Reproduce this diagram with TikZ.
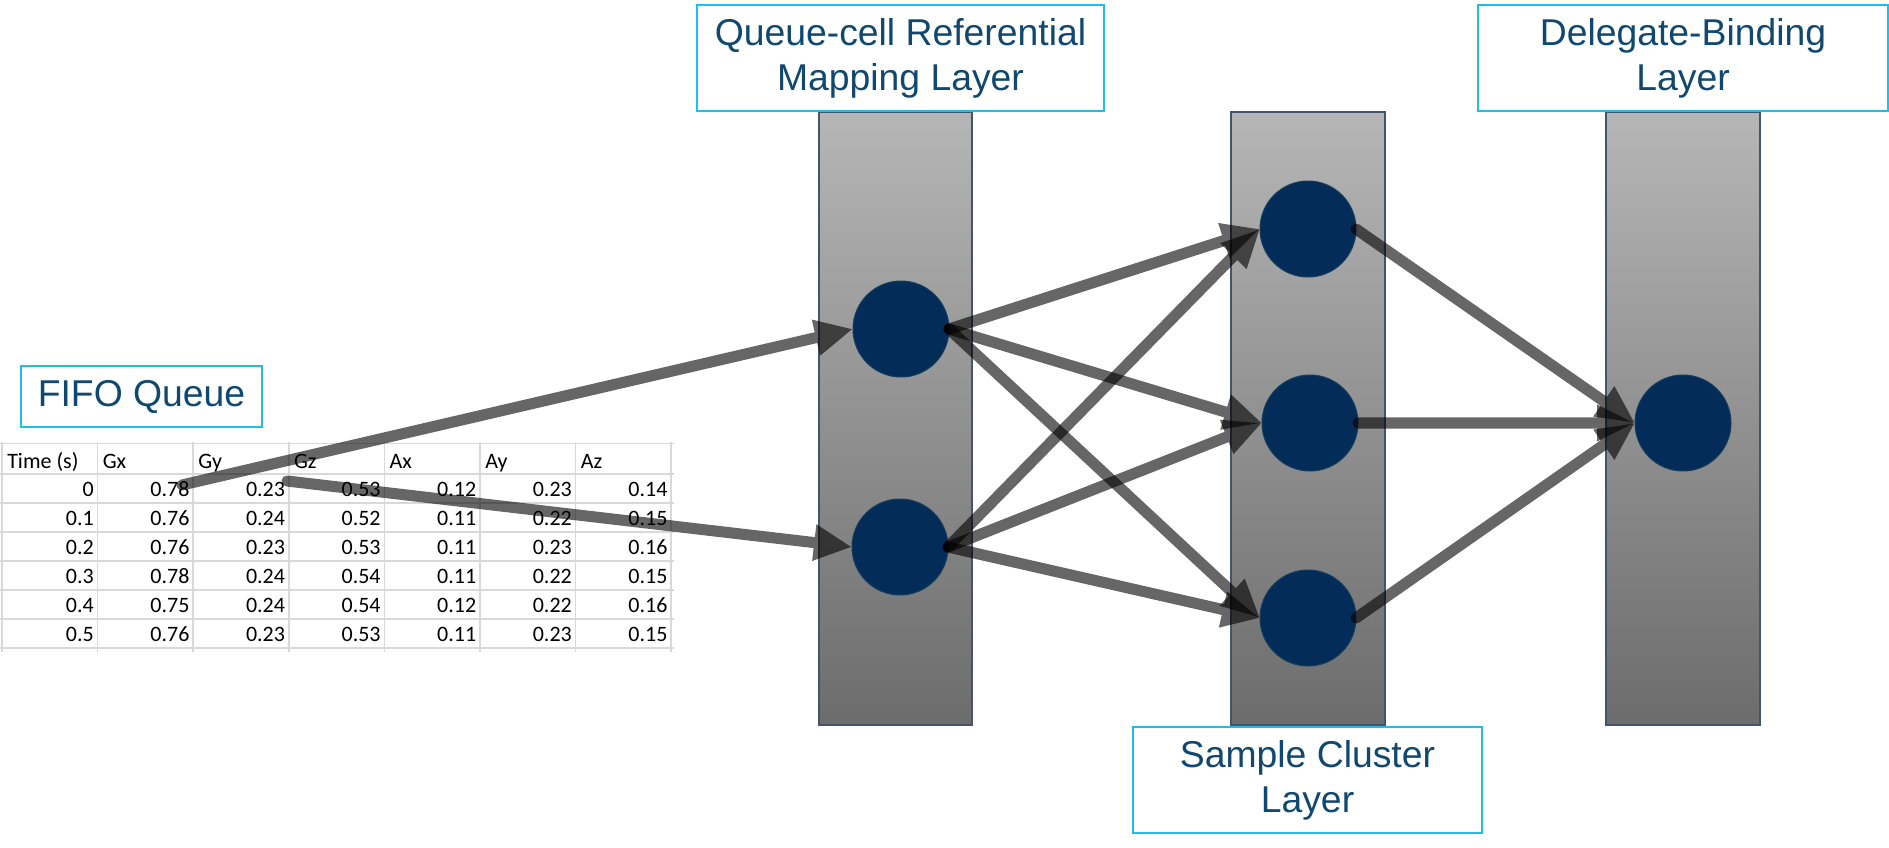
\documentclass[tikz,border=0pt]{standalone}
\usepackage{fontspec}
\setmainfont{Liberation Sans}
\newfontfamily\tablefont{Carlito}
\usetikzlibrary{arrows.meta}
\definecolor{txtblue}{RGB}{16,72,112}
\definecolor{boxcyan}{RGB}{32,190,230}
\definecolor{navy}{RGB}{4,44,89}
\definecolor{navyedge}{RGB}{20,62,90}
\definecolor{rectedge}{RGB}{68,84,106}
\definecolor{gridgray}{RGB}{217,217,217}
\definecolor{shadetop}{RGB}{182,182,182}
\definecolor{shadebot}{RGB}{108,108,108}
\begin{document}
\begin{tikzpicture}[x=0.75pt,y=-0.75pt,
 lbl/.style={draw=boxcyan, line width=1.5pt, fill=white, text=txtblue, align=center, inner sep=0pt, outer sep=0pt, font=\fontsize{28}{33.75}\selectfont},
 neuron/.style={circle, fill=navy, draw=navyedge, line width=0.75pt, minimum size=72pt, inner sep=0pt, outer sep=0pt},
 layerbar/.style={draw=rectedge, line width=1.1pt, top color=shadetop, bottom color=shadebot, inner sep=0pt, outer sep=0pt, minimum height=459.75pt},
 link/.style={line width=8.3pt, draw=black, line cap=round, -{Triangle[length=28.5pt,width=25.5pt]}},
 linkgroup/.style={transparency group, opacity=0.6},
 cell/.style={inner sep=0pt, font=\tablefont\fontsize{16.5}{19}\selectfont},
 grid/.style={draw=gridgray, line width=1.1pt},
]
\useasboundingbox (0,0) rectangle (1889,847);

% layer bars
\node[layerbar, minimum width=114.75pt] (bar1) at (895.5,418.5) {};
\node[layerbar, minimum width=115.5pt] (bar2) at (1308,418.5) {};
\node[layerbar, minimum width=115.5pt] (bar3) at (1683,418.5) {};

% table grid
\foreach \gx in {0,...,7} \draw[grid] ({2+95.6*\gx},441.5) -- ({2+95.6*\gx},652);
\draw[grid] (0,443.5) -- (674,443.5);
\foreach \gy in {0,...,6} \draw[grid] (0,{474+29*\gy}) -- (674,{474+29*\gy});

% header
\foreach \h [count=\c] in {Time (s),Gx,Gy,Gz,Ax,Ay,Az}
  \node[cell, anchor=base west] (h-\c) at ({2+95.6*(\c-1)+5},468) {\h};
% data
\foreach \row [count=\r] in {{0,0.78,0.23,0.53,0.12,0.23,0.14},{0.1,0.76,0.24,0.52,0.11,0.22,0.15},{0.2,0.76,0.23,0.53,0.11,0.23,0.16},{0.3,0.78,0.24,0.54,0.11,0.22,0.15},{0.4,0.75,0.24,0.54,0.12,0.22,0.16},{0.5,0.76,0.23,0.53,0.11,0.23,0.15}}
  \foreach \v [count=\c] in \row
    \node[cell, anchor=base east] (c-\r-\c) at ({2+95.6*\c-3.5},{474+29*\r-6.5}) {\v};

% labels
\node[lbl, minimum width=180.75pt, minimum height=45.75pt] (fifo) at (141.5,396.5) {FIFO Queue};
\node[lbl, minimum width=305.25pt, minimum height=79.5pt] (qlbl) at (900.5,58) {Queue-cell Referential\\Mapping Layer};
\node[lbl, minimum width=307.5pt, minimum height=79.5pt] (dlbl) at (1683,58) {Delegate-Binding\\Layer};
\node[lbl, minimum width=261.75pt, minimum height=79.5pt] (slbl) at (1307.5,780) {Sample Cluster\\Layer};

% neurons
\node[neuron] (q1) at (901,329) {};
\node[neuron] (q2) at (900,547) {};
\node[neuron] (s1) at (1308,229) {};
\node[neuron] (s2) at (1310,423) {};
\node[neuron] (s3) at (1308,618) {};
\node[neuron] (d1) at (1683,423) {};

% table sources
\coordinate (t1) at (182,485);
\coordinate (t2) at (287,481);

% connectors
\begin{scope}[linkgroup]\draw[link] (t1) -- (q1.west);\end{scope}
\begin{scope}[linkgroup]\draw[link] (t2) -- (q2.west);\end{scope}
\foreach \a in {q1,q2} \foreach \b in {s1,s2,s3} {
  \begin{scope}[linkgroup]\draw[link] (\a.east) -- (\b.west);\end{scope}
}
\foreach \a in {s1,s2,s3} {
  \begin{scope}[linkgroup]\draw[link] (\a.east) -- (d1.west);\end{scope}
}
\end{tikzpicture}
\end{document}
